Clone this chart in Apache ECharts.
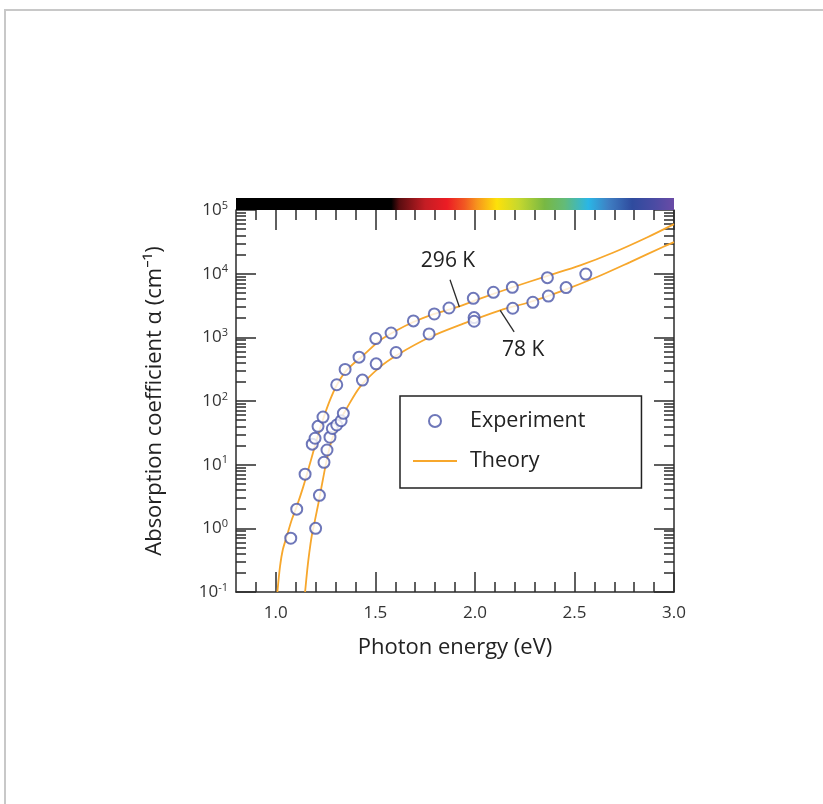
<!DOCTYPE html>
<html>
<head>
<meta charset="utf-8">
<script src="https://cdn.jsdelivr.net/npm/echarts@6/dist/echarts.min.js"></script>
<style>
  html, body { margin: 0; padding: 0; background: #fff; }
  #page { position: absolute; left: 4px; top: 9px; width: 830px; height: 810px;
          border-top: 2px solid #c8c8c8; border-left: 2px solid #c8c8c8; }
  #main { position: absolute; left: 0; top: 0; width: 823px; height: 804px; }
</style>
</head>
<body>
<div id="page"></div>
<div id="main"></div>
<script>
// experiment, 296 K
var exp296E = [1.075, 1.105, 1.147, 1.183, 1.197, 1.212, 1.237, 1.306, 1.348, 1.418, 1.502, 1.579, 1.691, 1.796, 1.870, 1.992, 2.093, 2.188, 2.364];
var exp296A = [0.70, 2.0, 7.1, 21, 26, 40, 56, 180, 313, 488, 957, 1170, 1810, 2330, 2890, 4100, 5100, 6100, 8650];
// experiment, 78 K
var exp78E = [1.200, 1.219, 1.242, 1.257, 1.272, 1.284, 1.306, 1.328, 1.339, 1.435, 1.504, 1.604, 1.770, 1.996, 1.996, 2.190, 2.291, 2.369, 2.458, 2.557];
var exp78A = [1.0, 3.3, 10.9, 17, 27, 37, 42, 49, 64, 213, 383, 578, 1130, 2040, 1790, 2860, 3550, 4450, 6040, 9860];
// theory curves
var th296E = [1.008, 1.021, 1.035, 1.055, 1.080, 1.105, 1.138, 1.172, 1.205, 1.239, 1.272, 1.306, 1.356, 1.440, 1.524, 1.608, 1.691, 1.775, 1.922, 2.026, 2.193, 2.361, 2.529, 2.696, 2.864, 3.0];
var th296A = [0.1, 0.25, 0.46, 0.745, 1.36, 2.2, 4.52, 10.5, 24.4, 53.3, 103, 177, 305, 524, 900, 1290, 1740, 2220, 3070, 4060, 6170, 9160, 13500, 21500, 37000, 60000];
var th78E = [1.147, 1.158, 1.168, 1.180, 1.197, 1.214, 1.236, 1.256, 1.281, 1.314, 1.356, 1.423, 1.524, 1.608, 1.775, 1.942, 2.127, 2.277, 2.445, 2.613, 2.780, 2.947, 3.0];
var th78A = [0.1, 0.224, 0.41, 0.745, 1.36, 2.48, 5.75, 11.9, 24.4, 44.6, 76.6, 167, 344, 525, 1010, 1640, 2660, 3590, 5470, 8850, 15200, 26500, 31300];
// axis ticks
var xLabels = [1.0, 1.5, 2.0, 2.5, 3.0];
var yDecades = [-1, 0, 1, 2, 3, 4, 5];
// spectrum bar (photon energy -> colour)
var specE = [0.8, 1.58, 1.62, 1.75, 1.86, 1.95, 2.01, 2.11, 2.22, 2.35, 2.45, 2.57, 2.67, 2.79, 2.9, 3.0];
var specC = ['#000000', '#000000', '#5a0d10', '#c41d24', '#ec1c24', '#f15a22', '#f7941d', '#fde10a', '#c6d82e', '#78b843', '#63bb78', '#2ab6e6', '#3f7fc3', '#2f4b9e', '#4a4ba3', '#6a4ba6'];

var xMin = 0.8, xMax = 3.0;
var gLeft = 236, gRight = 674, gTop = 210, gBottom = 592;
var dark = '#2b2b2b';
var font = "'Open Sans', 'Noto Sans', sans-serif";

function pairs(xs, ys) {
	return xs.map(function(x, i) { return [x, ys[i]]; });
}

var xMinor = [];
for (var i = 9; i <= 29; i++) {
	if (i % 5 !== 0) xMinor.push(i / 10);
}
var yMinor = [];
yDecades.slice(0, -1).forEach(function(d) {
	[2, 3, 4, 5, 6, 7, 8, 9].forEach(function(m) { yMinor.push(d + Math.log10(m)); });
});

function tickAxis(pos, values, len, opts) {
	return {
		type: 'value', position: pos, min: opts.min, max: opts.max,
		axisLine: { show: false, onZero: false },
		axisTick: { show: true, inside: true, length: len, customValues: values,
			lineStyle: { color: dark, width: 1.5 } },
		axisLabel: { show: false },
		splitLine: { show: false }
	};
}

var xRange = { min: xMin, max: xMax };
var yRange = { min: -1, max: 5 };

var stops = specE.map(function(e, i) {
	return { offset: (e - xMin) / (xMax - xMin), color: specC[i] };
});

var circleStyle = { color: '#ffffff', borderColor: '#4a55a8', borderWidth: 2 };
var lineColor = '#f7a72c';

var chart = echarts.init(document.getElementById('main'));
var option = {
	animation: false,
	textStyle: { fontFamily: font },
	grid: { left: gLeft, right: 823 - gRight, top: gTop, bottom: 804 - gBottom },
	xAxis: [
		{
			type: 'value', position: 'bottom', min: xMin, max: xMax,
			name: 'Photon energy (eV)', nameLocation: 'middle', nameGap: 45,
			nameTextStyle: { fontSize: 22, color: '#222', fontFamily: font },
			axisLine: { show: true, onZero: false, lineStyle: { color: dark, width: 1.5 } },
			axisTick: { show: true, inside: true, length: 20, customValues: xLabels,
				lineStyle: { color: dark, width: 1.5 } },
			axisLabel: { customValues: xLabels, margin: 13, fontSize: 17, color: '#333', fontFamily: font,
				formatter: function(v) { return v.toFixed(1); } },
			splitLine: { show: false }
		},
		tickAxis('bottom', xMinor, 10, xRange),
		tickAxis('top', xLabels, 20, xRange),
		tickAxis('top', xMinor, 10, xRange)
	],
	yAxis: [
		{
			type: 'log', logBase: 10, min: 0.1, max: 100000, position: 'left',
			name: 'Absorption coefficient \u03b1 (cm\u207b\u00b9)', nameLocation: 'middle', nameGap: 70,
			nameTextStyle: { fontSize: 22, color: '#222', fontFamily: font },
			axisLine: { show: true, onZero: false, lineStyle: { color: dark, width: 1.5 } },
			axisTick: { show: false }, axisLabel: { show: false }, splitLine: { show: false }
		},
		{
			type: 'value', position: 'left', min: -1, max: 5, interval: 1,
			axisLine: { show: false, onZero: false },
			axisTick: { show: true, inside: true, length: 20, lineStyle: { color: dark, width: 1.5 } },
			axisLabel: {
				margin: 8, fontFamily: font,
				formatter: function(v) { return '{b|10}{s|' + v + '}'; },
				rich: {
					b: { fontSize: 17, lineHeight: 20, color: '#333', fontFamily: font },
					s: { fontSize: 11, lineHeight: 11, verticalAlign: 'top', color: '#333', fontFamily: font }
				}
			},
			splitLine: { show: false }
		},
		tickAxis('left', yMinor, 10, yRange),
		(function() {
			var a = tickAxis('right', yDecades, 20, yRange);
			a.axisLine = { show: true, onZero: false, lineStyle: { color: dark, width: 1.5 } };
			return a;
		})(),
		tickAxis('right', yMinor, 10, yRange)
	],
	legend: {
		orient: 'vertical', left: 400, top: 396,
		data: ['Experiment', { name: 'Theory', itemStyle: { opacity: 0 } }],
		itemWidth: 44, itemHeight: 12, itemGap: 16,
		padding: [13, 56, 15, 12],
		borderColor: '#222', borderWidth: 1.5,
		textStyle: { fontSize: 21.5, lineHeight: 24, color: '#222', fontFamily: font, padding: [0, 0, 0, 8] }
	},
	graphic: [{
		type: 'rect', z: 100, silent: true,
		shape: { x: gLeft, y: 198, width: gRight - gLeft, height: 12 },
		style: { fill: new echarts.graphic.LinearGradient(0, 0, 1, 0, stops) }
	}],
	series: [
		{
			name: 'Theory', type: 'line', xAxisIndex: 0, yAxisIndex: 0,
			data: pairs(th296E, th296A), symbol: 'none', smooth: 0.3,
			lineStyle: { color: lineColor, width: 1.8 }, itemStyle: { color: lineColor },
			markLine: {
				silent: true, symbol: ['none', 'none'], label: { show: false },
				lineStyle: { color: dark, width: 1.3, type: 'solid' },
				data: [
					[{ coord: [1.875, 8040] }, { coord: [1.922, 3000] }],
					[{ coord: [2.127, 2660] }, { coord: [2.197, 1216] }]
				]
			},
			markPoint: {
				silent: true, symbol: 'circle', symbolSize: 1,
				itemStyle: { color: 'rgba(0,0,0,0)' },
				label: { show: true, position: 'inside', fontSize: 21, color: '#222', fontFamily: font,
					formatter: function(p) { return p.name; } },
				data: [
					{ name: '296 K', coord: [1.865, 15600] },
					{ name: '78 K', coord: [2.242, 628] }
				]
			}
		},
		{
			name: 'Theory', type: 'line', xAxisIndex: 0, yAxisIndex: 0,
			data: pairs(th78E, th78A), symbol: 'none', smooth: 0.3,
			lineStyle: { color: lineColor, width: 1.8 }, itemStyle: { color: lineColor }
		},
		{
			name: 'Experiment', type: 'scatter', xAxisIndex: 0, yAxisIndex: 0,
			data: pairs(exp296E, exp296A), symbol: 'circle', symbolSize: 11,
			itemStyle: circleStyle, z: 3
		},
		{
			name: 'Experiment', type: 'scatter', xAxisIndex: 0, yAxisIndex: 0,
			data: pairs(exp78E, exp78A), symbol: 'circle', symbolSize: 11,
			itemStyle: circleStyle, z: 3
		}
	]
};
chart.setOption(option);
</script>
</body>
</html>
